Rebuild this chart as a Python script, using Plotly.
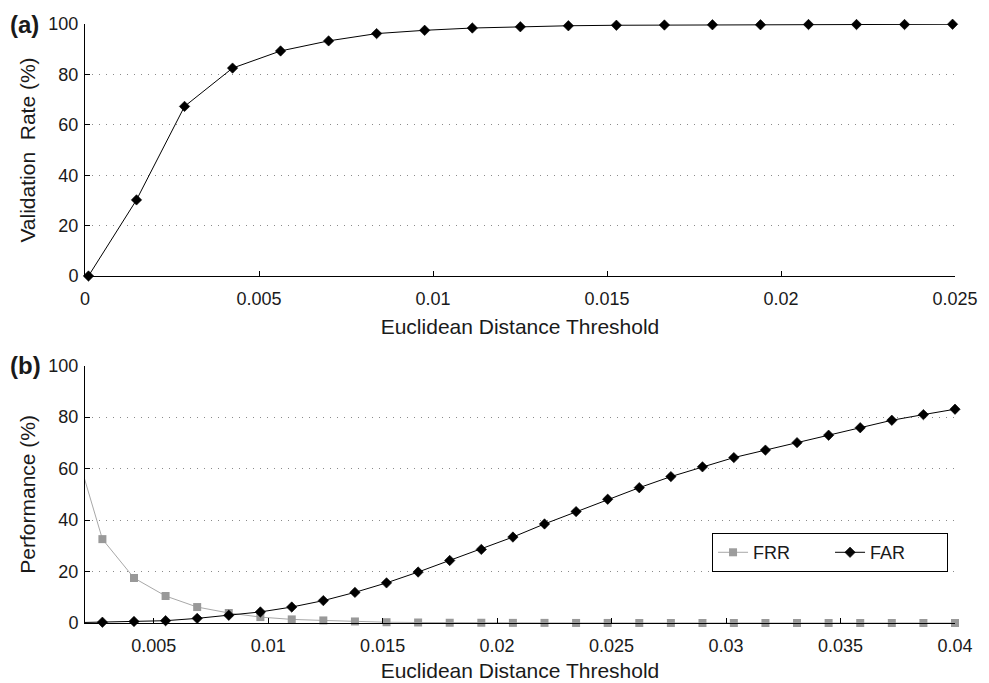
import plotly.graph_objects as go

# ---- data ----
top_x = [0.0001, 0.00148, 0.00286, 0.00424, 0.00562, 0.00700, 0.00838, 0.00976,
         0.01113, 0.01251, 0.01389, 0.01527, 0.01665, 0.01803, 0.01941, 0.02079,
         0.02217, 0.02355, 0.02493]
top_rate = [0, 30.2, 67.3, 82.5, 89.3, 93.3, 96.2, 97.5, 98.4, 98.9, 99.3, 99.5,
            99.6, 99.7, 99.7, 99.8, 99.8, 99.8, 99.9]

bot_x = [0.00138, 0.00276, 0.00414, 0.00552, 0.00690, 0.00828, 0.00966, 0.01103,
         0.01241, 0.01379, 0.01517, 0.01655, 0.01793, 0.01931, 0.02069, 0.02207,
         0.02345, 0.02483, 0.02621, 0.02759, 0.02897, 0.03034, 0.03172, 0.03310,
         0.03448, 0.03586, 0.03724, 0.03862, 0.04]
frr = [74, 32.6, 17.5, 10.5, 6.2, 3.9, 2.3, 1.4, 1.0, 0.6, 0.3, 0.2, 0.1, 0.1,
       0.05, 0.05, 0.02, 0.02, 0.01, 0.01, 0, 0, 0, 0, 0, 0, 0, 0, 0]
far = [0.1, 0.3, 0.6, 0.9, 1.8, 3.0, 4.3, 6.2, 8.7, 11.9, 15.6, 19.8, 24.3, 28.6,
       33.4, 38.5, 43.3, 48.1, 52.6, 56.9, 60.7, 64.3, 67.2, 70.1, 73.0, 75.9,
       78.8, 81.0, 83.1]

top_xticks = [0, 0.005, 0.01, 0.015, 0.02, 0.025]
top_xlabels = ["0", "0.005", "0.01", "0.015", "0.02", "0.025"]
bot_xticks = [0.005, 0.01, 0.015, 0.02, 0.025, 0.03, 0.035, 0.04]
bot_xlabels = ["0.005", "0.01", "0.015", "0.02", "0.025", "0.03", "0.035", "0.04"]
yticks = [0, 20, 40, 60, 80, 100]

FONT = "Liberation Sans, Arial, Helvetica, sans-serif"
TXT = "#1a1a1a"
X2_MIN, X2_MAX = 0.002, 0.04
# hide markers of points lying left of the visible x-range (line still enters from the edge)
bot_opacity = [1 if v >= X2_MIN else 0 for v in bot_x]

fig = go.Figure()
fig.add_trace(go.Scatter(
    x=top_x, y=top_rate, mode="lines+markers", xaxis="x", yaxis="y",
    line=dict(color="black", width=1),
    marker=dict(symbol="diamond", size=8, color="black",
                line=dict(color="black", width=0.6)),
    showlegend=False, cliponaxis=False))
fig.add_trace(go.Scatter(
    x=bot_x, y=frr, mode="lines+markers", xaxis="x2", yaxis="y2", name="FRR",
    line=dict(color="#a8a8a8", width=1),
    marker=dict(symbol="square", size=8, color="#999999", opacity=bot_opacity),
    cliponaxis=False))
fig.add_trace(go.Scatter(
    x=bot_x, y=far, mode="lines+markers", xaxis="x2", yaxis="y2", name="FAR",
    line=dict(color="black", width=1),
    marker=dict(symbol="diamond", size=8, color="black", opacity=bot_opacity,
                line=dict(color="black", width=0.6)),
    cliponaxis=False))

axis_common = dict(
    showline=True, linecolor="black", linewidth=1, mirror=False,
    ticks="inside", ticklen=5, tickcolor="black", tickwidth=1,
    zeroline=False, automargin=False,
    tickfont=dict(family=FONT, size=18, color=TXT),
)
grid = dict(showgrid=True, gridcolor="#8a8a8a", griddash="1px,6px", gridwidth=1)
title_font = dict(family=FONT, size=21, color=TXT)

fig.update_layout(
    width=989, height=683,
    margin=dict(l=85, r=34, t=24, b=60),
    paper_bgcolor="white", plot_bgcolor="white",
    font=dict(family=FONT, color=TXT),
    xaxis=dict(domain=[0, 1], anchor="y", range=[0, 0.025],
               tickvals=top_xticks, ticktext=top_xlabels, showgrid=False,
               ticklabelstandoff=6,
               title=dict(text="Euclidean Distance Threshold", font=title_font, standoff=11),
               **axis_common),
    yaxis=dict(domain=[0.5793, 1.0], anchor="x", range=[0, 100],
               tickvals=yticks, ticklabelstandoff=2,
               title=dict(text="Validation  Rate (%)", font=title_font, standoff=6),
               **grid, **axis_common),
    xaxis2=dict(domain=[0, 1], anchor="y2", range=[X2_MIN, X2_MAX],
                tickvals=bot_xticks, ticktext=bot_xlabels, showgrid=False,
                ticklabelstandoff=6,
                title=dict(text="Euclidean Distance Threshold", font=title_font, standoff=8),
                **axis_common),
    yaxis2=dict(domain=[0, 0.4295], anchor="x2", range=[0, 100],
                tickvals=yticks, ticklabelstandoff=2,
                title=dict(text="Performance (%)", font=title_font, standoff=6),
                **grid, **axis_common),
    legend=dict(orientation="h", x=0.992, xanchor="right", y=0.085, yanchor="bottom",
                bgcolor="white", bordercolor="black", borderwidth=1,
                font=dict(family=FONT, size=18, color=TXT),
                entrywidth=72, entrywidthmode="pixels", tracegroupgap=0),
    annotations=[
        dict(text="<b>(a)</b>", xref="paper", yref="paper", x=-0.089, y=1.0,
             xanchor="left", yanchor="middle", showarrow=False,
             font=dict(family=FONT, size=24, color=TXT)),
        dict(text="<b>(b)</b>", xref="paper", yref="paper", x=-0.089, y=0.4295,
             xanchor="left", yanchor="middle", showarrow=False,
             font=dict(family=FONT, size=24, color=TXT)),
    ],
)

fig.write_html("out.html")
